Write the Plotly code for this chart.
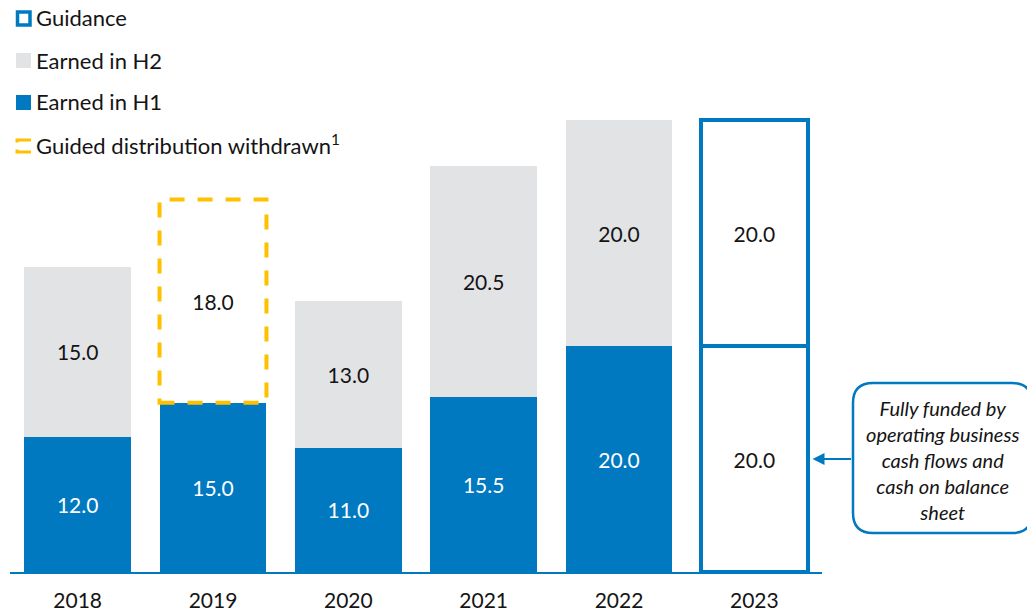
import plotly.graph_objects as go

# data
years = ["2018", "2019", "2020", "2021", "2022", "2023"]
h1_years = ["2018", "2019", "2020", "2021", "2022"]
h1_values = [12.0, 15.0, 11.0, 15.5, 20.0]
h2_years = ["2018", "2019", "2020", "2021", "2022"]
h2_values = [15.0, 18.0, 13.0, 20.5, 20.0]
guidance_year = ["2023"]
guidance_h1 = [20.0]
guidance_h2 = [20.0]
withdrawn_index = 1  # 2019 H2 guided distribution withdrawn

BLUE = "#0079C1"
GREY = "#E2E3E5"
YELLOW = "#FFC000"
TXT = "#141414"
FONT = "Lato, Carlito, Calibri, sans-serif"

W, H = 1027, 611
ML, MR, MT, MB = 10, 205, 64, 39


def px(x):
    return (x - ML) / (W - ML - MR)


def py(y):
    return (H - MB - y) / (H - MT - MB)


fig = go.Figure()

fig.add_trace(go.Bar(
    x=h1_years, y=h1_values, name="Earned in H1",
    marker=dict(color=BLUE, line=dict(width=0)),
    texttemplate="%{y:.1f}", textposition="inside", insidetextanchor="middle",
    textfont=dict(color="white", size=21, family=FONT),
))
fig.add_trace(go.Bar(
    x=guidance_year, y=guidance_h1, name="Guidance",
    marker=dict(color="white", line=dict(color=BLUE, width=4)),
    texttemplate="%{y:.1f}", textposition="inside", insidetextanchor="middle",
    textfont=dict(color=TXT, size=21, family=FONT),
))
h2_colors = [GREY if i != withdrawn_index else "rgba(0,0,0,0)" for i in range(len(h2_values))]
fig.add_trace(go.Bar(
    x=h2_years, y=h2_values, name="Earned in H2",
    marker=dict(color=h2_colors, line=dict(width=0)),
    texttemplate="%{y:.1f}", textposition="inside", insidetextanchor="middle",
    textfont=dict(color=TXT, size=21, family=FONT),
))
fig.add_trace(go.Bar(
    x=guidance_year, y=guidance_h2, name="Guidance",
    marker=dict(color="white", line=dict(color=BLUE, width=4)),
    texttemplate="%{y:.1f}", textposition="inside", insidetextanchor="middle",
    textfont=dict(color=TXT, size=21, family=FONT),
))

bargap = 0.21
half = (1 - bargap) / 2

# dashed outline of the withdrawn 2019 H2 distribution
fig.add_shape(type="rect", xref="x", yref="y",
              x0=withdrawn_index - half, x1=withdrawn_index + half,
              y0=h1_values[withdrawn_index],
              y1=h1_values[withdrawn_index] + h2_values[withdrawn_index],
              line=dict(color=YELLOW, width=4, dash="15px,13px"))

# legend (drawn by hand)
legend_rows = [("Guidance", 18), ("Earned in H2", 60), ("Earned in H1", 102),
               ("Guided distribution withdrawn<sup>1</sup>", 144)]
for label, yc in legend_rows:
    fig.add_annotation(xref="paper", yref="paper", x=px(34), y=py(yc),
                       xanchor="left", yanchor="middle", showarrow=False,
                       text=label, font=dict(size=22, color=TXT, family=FONT))

fig.add_shape(type="rect", xref="paper", yref="paper",
              x0=px(17.5), x1=px(30), y0=py(25), y1=py(12),
              line=dict(color=BLUE, width=3.5), fillcolor="white")
fig.add_shape(type="rect", xref="paper", yref="paper",
              x0=px(16), x1=px(31), y0=py(68), y1=py(53),
              line=dict(width=0), fillcolor=GREY)
fig.add_shape(type="rect", xref="paper", yref="paper",
              x0=px(16), x1=px(31), y0=py(110), y1=py(95),
              line=dict(width=0), fillcolor=BLUE)
fig.add_shape(type="path", xref="paper", yref="paper",
              path=f"M {px(31)},{py(140)} L {px(17)},{py(140)} L {px(17)},{py(142.5)}",
              line=dict(color=YELLOW, width=3))
fig.add_shape(type="path", xref="paper", yref="paper",
              path=f"M {px(17)},{py(149.5)} L {px(17)},{py(152)} L {px(31)},{py(152)}",
              line=dict(color=YELLOW, width=3))

# callout box
bx0, bx1, by0, by1, r = 853, 1032, 383, 533, 20
path = (f"M {px(bx0 + r)},{py(by0)} L {px(bx1 - r)},{py(by0)} "
        f"Q {px(bx1)},{py(by0)} {px(bx1)},{py(by0 + r)} L {px(bx1)},{py(by1 - r)} "
        f"Q {px(bx1)},{py(by1)} {px(bx1 - r)},{py(by1)} L {px(bx0 + r)},{py(by1)} "
        f"Q {px(bx0)},{py(by1)} {px(bx0)},{py(by1 - r)} L {px(bx0)},{py(by0 + r)} "
        f"Q {px(bx0)},{py(by0)} {px(bx0 + r)},{py(by0)} Z")
fig.add_shape(type="path", xref="paper", yref="paper", path=path,
              line=dict(color=BLUE, width=2.5), fillcolor="white")
fig.add_annotation(xref="paper", yref="paper", x=px(942), y=py(460),
                   xanchor="center", yanchor="middle", showarrow=False,
                   text="<i>Fully funded by<br>operating business<br>cash flows and<br>cash on balance<br>sheet</i>",
                   align="center", font=dict(size=20, color=TXT, family=FONT))

# arrow to the guidance bar
fig.add_annotation(xref="x", yref="y", x=5 + half + 0.035, y=10,
                   ax=40, ay=0, text="", showarrow=True,
                   arrowhead=2, arrowsize=1.2, arrowwidth=2, arrowcolor=BLUE)

fig.update_layout(
    width=W, height=H,
    margin=dict(l=ML, r=MR, t=MT, b=MB, autoexpand=False),
    barmode="stack", bargap=bargap,
    showlegend=False,
    plot_bgcolor="white", paper_bgcolor="white",
    font=dict(family=FONT, color=TXT),
    xaxis=dict(categoryorder="array", categoryarray=years, automargin=False,
               range=[-0.5, len(years) - 0.5],
               showline=True, linecolor=BLUE, linewidth=2,
               showgrid=False, ticks="", ticklabelstandoff=9,
               tickfont=dict(size=21, color=TXT, family=FONT)),
    yaxis=dict(range=[0, 45], visible=False, showgrid=False, automargin=False),
)

fig.write_html("out.html", config={"displayModeBar": False},
               post_script="document.body.style.margin='0';document.body.style.overflow='hidden';")
